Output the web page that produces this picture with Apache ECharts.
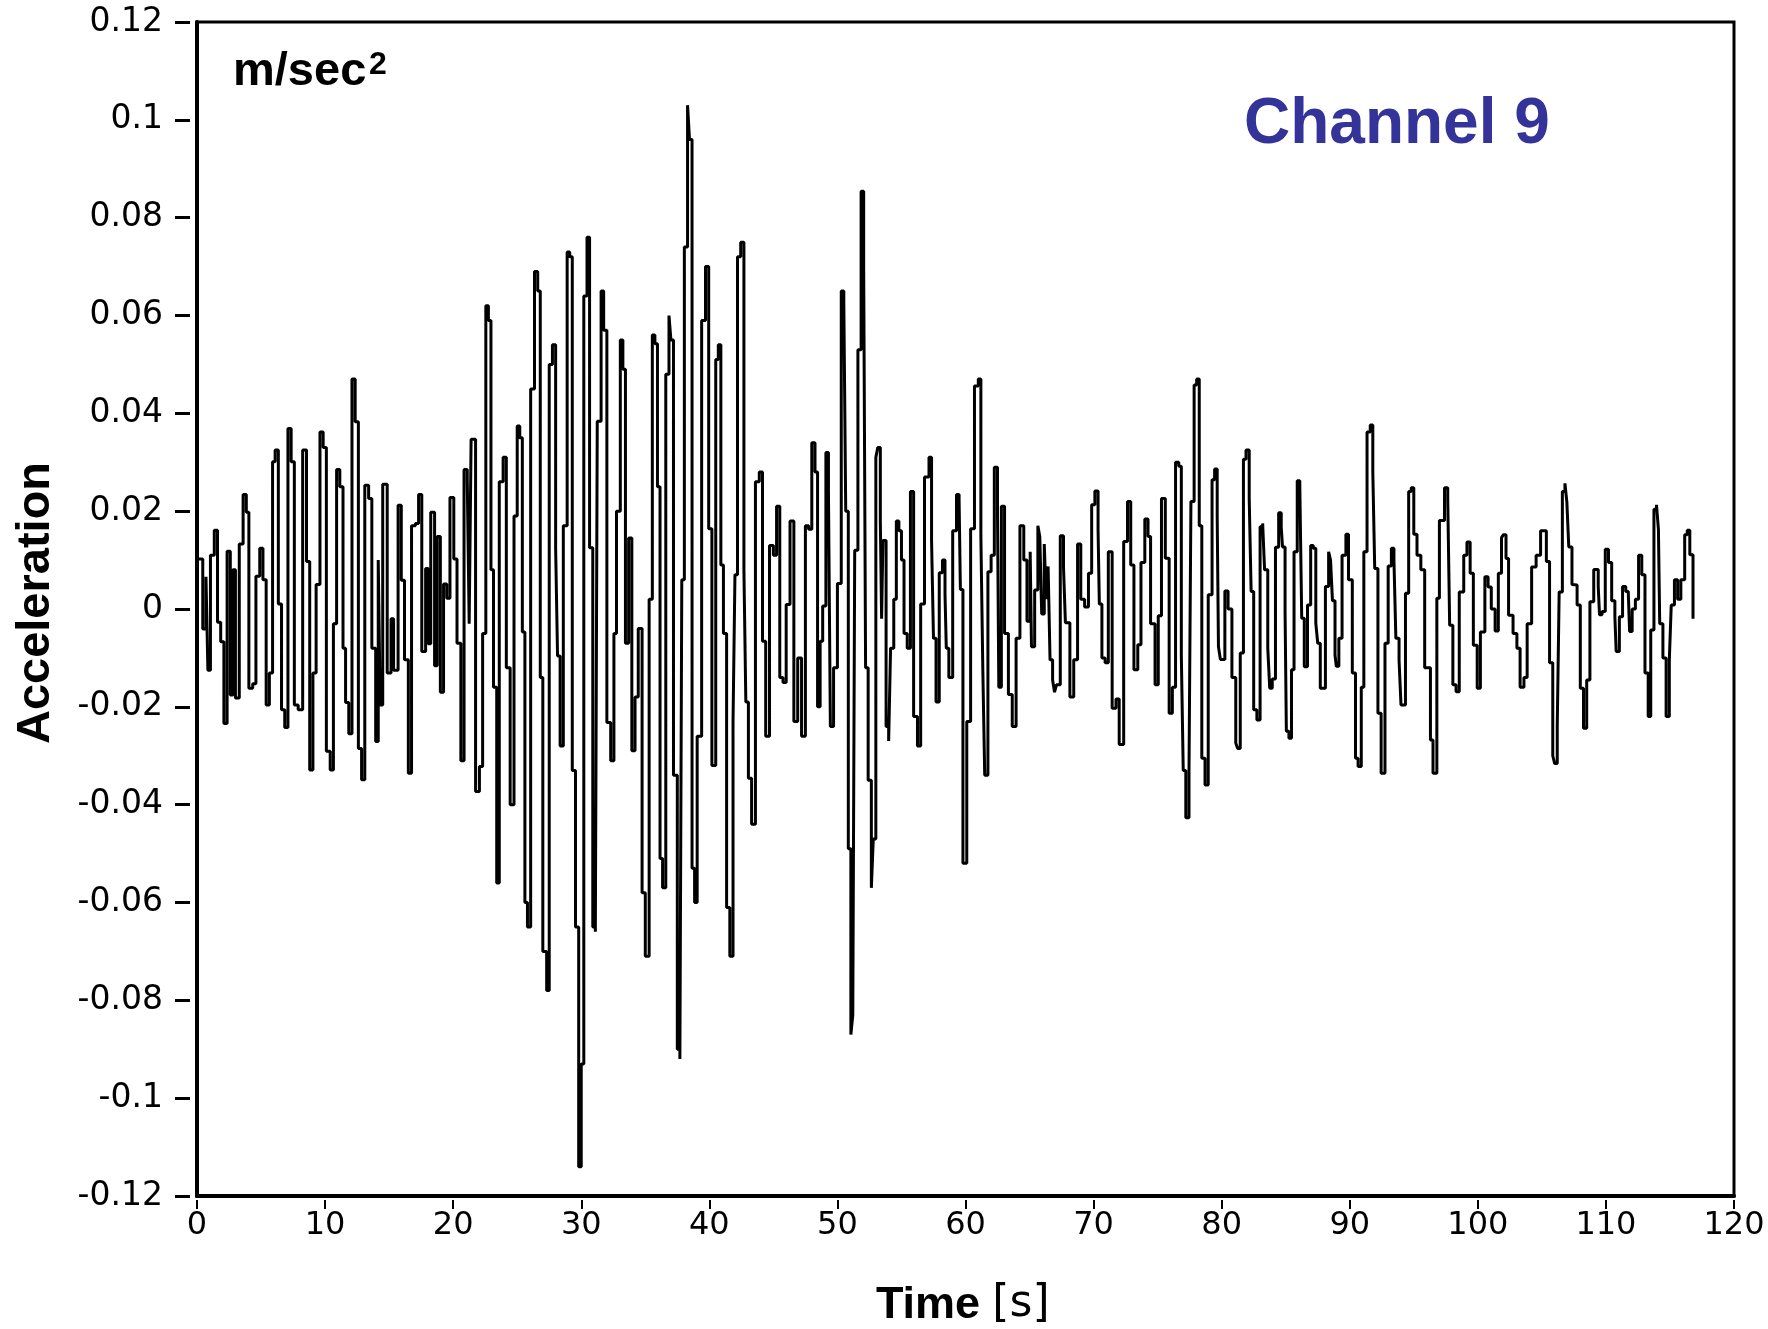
<!DOCTYPE html>
<html><head><meta charset="utf-8">
<script src="https://cdn.jsdelivr.net/npm/echarts@6/dist/echarts.min.js"></script>
<style>html,body{margin:0;padding:0;background:#fff}#c{width:1768px;height:1329px}</style>
</head><body><div id="c"></div>
<script>
// Time stamps (s) of each held sample
const timeS = [
0.10,0.45,0.70,0.85,1.05,1.35,1.60,1.85,2.10,2.35,2.60,2.80,3.00,3.30,3.60,3.85,4.05,4.35,4.60,4.90,
5.15,5.40,5.65,5.90,6.10,6.35,6.60,6.85,7.10,7.35,7.60,7.90,8.25,8.55,8.80,9.05,9.30,9.60,9.85,10.10,
10.40,10.65,10.90,11.15,11.40,11.60,11.85,12.10,12.35,12.60,12.85,13.10,13.40,13.65,13.95,14.15,14.30,14.50,14.85,15.15,
15.35,15.70,15.95,16.20,16.50,16.75,17.05,17.30,17.55,17.85,18.05,18.25,18.55,18.75,19.00,19.25,19.50,19.75,20.05,20.30,
20.60,20.85,21.10,21.25,21.40,21.75,22.05,22.30,22.55,22.75,22.95,23.15,23.40,23.60,23.90,24.15,24.45,24.75,25.00,25.20,
25.40,25.60,25.80,26.05,26.35,26.60,26.80,27.00,27.30,27.50,27.75,28.00,28.15,28.35,28.60,28.90,29.10,29.30,29.55,29.80,
30.00,30.20,30.45,30.65,30.90,31.10,31.25,31.55,31.75,32.00,32.30,32.55,32.75,33.05,33.25,33.45,33.70,33.95,34.20,34.45,
34.75,35.00,35.30,35.55,35.75,35.95,36.15,36.35,36.60,36.85,37.00,37.20,37.50,37.70,37.85,38.05,38.30,38.45,38.65,38.85,
39.05,39.40,39.70,39.95,40.20,40.50,40.70,40.90,41.10,41.35,41.60,41.85,42.00,42.20,42.45,42.70,42.85,43.05,43.30,43.60,
43.90,44.15,44.40,44.70,45.00,45.25,45.50,45.75,46.00,46.30,46.60,46.90,47.20,47.50,47.75,48.00,48.25,48.45,48.65,48.85,
49.10,49.30,49.45,49.70,50.00,50.30,50.50,50.65,50.85,51.05,51.20,51.35,51.60,51.85,52.05,52.20,52.40,52.65,52.80,53.00,
53.15,53.35,53.45,53.55,53.80,54.00,54.15,54.40,54.60,54.80,55.00,55.20,55.45,55.70,55.95,56.25,56.50,56.80,57.15,57.35,
57.50,57.70,57.95,58.20,58.40,58.50,58.70,59.00,59.30,59.50,59.60,59.80,60.10,60.40,60.70,61.00,61.20,61.35,61.50,61.75,
62.00,62.25,62.50,62.60,62.80,63.05,63.35,63.65,63.95,64.25,64.55,64.80,65.05,65.15,65.40,65.65,65.80,65.95,66.15,66.30,
66.45,66.60,66.80,66.95,67.10,67.40,67.65,67.80,68.15,68.45,68.75,69.00,69.30,69.60,69.85,70.10,70.35,70.45,70.65,70.90,
71.15,71.45,71.75,72.00,72.35,72.65,72.90,73.15,73.45,73.70,74.00,74.25,74.45,74.80,75.05,75.30,75.60,75.90,76.15,76.40,
76.65,76.85,77.00,77.20,77.45,77.60,77.85,78.05,78.25,78.45,78.70,78.95,79.25,79.45,79.65,79.75,79.90,80.25,80.50,80.80,
81.10,81.25,81.45,81.70,81.90,82.15,82.30,82.50,82.75,83.00,83.20,83.35,83.60,83.75,83.95,84.20,84.45,84.65,84.75,84.95,
85.05,85.25,85.45,85.65,85.90,86.10,86.25,86.45,86.70,86.95,87.15,87.35,87.50,87.70,88.10,88.35,88.50,88.65,88.85,88.95,
89.15,89.40,89.70,89.90,90.20,90.45,90.65,90.90,91.10,91.35,91.60,91.80,91.95,92.20,92.45,92.75,93.00,93.25,93.45,93.60,
93.85,94.00,94.35,94.60,94.80,95.00,95.25,95.55,95.85,96.30,96.50,96.80,97.00,97.40,97.65,97.80,98.05,98.30,98.55,98.90,
99.15,99.40,99.65,99.95,100.20,100.55,100.80,101.05,101.35,101.60,101.85,102.00,102.20,102.40,102.75,103.05,103.30,103.60,103.85,104.20,
104.55,104.90,105.35,105.60,105.85,106.00,106.20,106.35,106.60,106.80,106.95,107.10,107.35,107.50,107.75,108.00,108.25,108.50,108.75,109.05,
109.40,109.50,109.70,109.95,110.20,110.45,110.70,110.80,111.05,111.30,111.55,111.75,111.85,112.05,112.30,112.55,112.80,113.05,113.30,113.50,
113.75,113.95,114.10,114.20,114.45,114.70,114.95,115.10,115.35,115.60,115.85,116.15,116.35,116.55,116.80
];
// Acceleration (m/sec^2) at each time stamp
const accel = [
0.0102,-0.0041,0.0066,-0.0125,0.0110,0.0161,-0.0027,-0.0067,-0.0234,0.0118,-0.0176,0.0080,-0.0182,0.0133,0.0234,0.0198,-0.0162,-0.0153,0.0067,0.0124,
0.0060,-0.0196,-0.0131,0.0301,0.0325,0.0010,-0.0206,-0.0242,0.0369,0.0301,-0.0196,-0.0206,0.0325,0.0097,-0.0329,-0.0131,0.0050,0.0362,0.0330,-0.0291,
-0.0329,-0.0030,0.0285,0.0250,-0.0080,-0.0191,-0.0255,0.0470,0.0383,-0.0285,-0.0349,0.0253,0.0226,-0.0080,-0.0271,0.0100,-0.0196,0.0255,-0.0131,-0.0020,
-0.0125,0.0212,0.0059,-0.0104,-0.0336,0.0170,0.0175,0.0234,-0.0087,0.0083,-0.0071,0.0198,-0.0116,0.0148,-0.0170,0.0051,0.0022,0.0228,0.0102,-0.0070,
-0.0310,0.0285,0.0264,-0.0030,0.0347,-0.0373,-0.0322,-0.0050,0.0620,0.0590,0.0080,-0.0160,-0.0560,0.0260,0.0310,-0.0120,-0.0400,0.0190,0.0374,0.0350,
-0.0047,-0.0600,-0.0650,0.0450,0.0690,0.0650,-0.0140,-0.0700,-0.0780,0.0500,0.0540,0.0125,-0.0096,-0.0280,0.0170,0.0730,0.0720,-0.0330,-0.0650,-0.1140,
-0.0930,0.0640,0.0760,0.0125,-0.0650,-0.0660,0.0384,0.0650,0.0570,-0.0232,-0.0310,-0.0050,0.0200,0.0550,0.0490,-0.0070,0.0145,-0.0290,-0.0180,-0.0040,
-0.0580,-0.0710,0.0020,0.0560,0.0542,0.0250,-0.0510,-0.0570,0.0480,0.0600,0.0550,-0.0340,-0.0900,-0.0920,0.0060,0.0740,0.1030,0.0960,-0.0530,-0.0600,
-0.0260,0.0590,0.0700,0.0164,-0.0320,0.0510,0.0540,0.0090,-0.0050,-0.0610,-0.0710,-0.0230,0.0070,0.0720,0.0750,0.0080,-0.0190,-0.0346,-0.0440,0.0260,
0.0280,-0.0066,-0.0260,0.0130,0.0110,0.0210,-0.0140,-0.0150,0.0009,0.0180,-0.0230,-0.0100,-0.0260,0.0170,0.0163,0.0340,0.0280,-0.0200,-0.0066,0.0006,
0.0320,0.0240,-0.0240,-0.0120,0.0052,0.0650,0.0625,0.0200,-0.0490,-0.0870,-0.0830,0.0120,0.0530,0.0854,0.0700,-0.0120,-0.0350,-0.0570,-0.0470,0.0310,
0.0330,0.0180,-0.0020,0.0140,-0.0240,-0.0270,-0.0080,0.0020,0.0180,0.0160,0.0100,-0.0050,-0.0080,0.0240,-0.0220,-0.0280,0.0010,0.0270,0.0310,0.0140,
-0.0060,-0.0190,0.0074,0.0100,0.0030,-0.0080,-0.0140,0.0160,0.0234,0.0222,0.0040,-0.0520,-0.0230,0.0164,0.0456,0.0470,0.0150,-0.0120,-0.0340,0.0076,
0.0110,0.0290,0.0190,-0.0160,0.0210,-0.0050,-0.0175,-0.0240,-0.0060,0.0170,0.0100,-0.0025,0.0117,-0.0077,0.0039,0.0170,0.0148,-0.0010,0.0133,0.0020,
0.0087,-0.0104,-0.0145,-0.0170,-0.0155,0.0150,0.0087,-0.0028,-0.0180,-0.0104,0.0133,0.0020,0.0004,0.0073,0.0213,0.0241,0.0162,0.0010,-0.0100,-0.0110,
0.0117,-0.0203,-0.0184,-0.0277,0.0138,0.0220,0.0090,-0.0124,-0.0073,0.0095,0.0184,0.0148,-0.0030,-0.0155,-0.0014,0.0226,0.0104,-0.0213,-0.0160,0.0300,
0.0292,-0.0094,-0.0330,-0.0427,-0.0330,0.0220,0.0458,0.0470,0.0170,-0.0305,-0.0360,0.0029,0.0264,0.0286,0.0190,-0.0077,-0.0103,0.0037,0.0000,-0.0140,
-0.0274,-0.0285,-0.0090,0.0306,0.0325,0.0226,0.0036,-0.0206,-0.0227,0.0168,0.0175,0.0080,-0.0080,-0.0162,-0.0143,0.0126,0.0197,0.0168,0.0127,-0.0005,
-0.0250,-0.0264,-0.0124,0.0117,0.0262,0.0253,-0.0019,-0.0118,0.0008,0.0130,0.0124,-0.0029,-0.0070,-0.0162,0.0046,0.0117,0.0100,0.0017,-0.0094,-0.0117,
-0.0060,0.0110,0.0153,0.0060,-0.0131,-0.0305,-0.0322,-0.0160,0.0117,0.0362,0.0376,0.0280,0.0083,-0.0213,-0.0336,-0.0070,0.0088,0.0124,0.0100,-0.0060,
-0.0105,-0.0196,0.0032,0.0240,0.0248,0.0153,0.0110,0.0080,-0.0120,-0.0268,-0.0336,0.0022,0.0181,0.0248,0.0226,-0.0033,-0.0155,-0.0169,0.0035,0.0110,
0.0137,0.0073,-0.0074,-0.0162,-0.0047,0.0066,0.0045,0.0000,-0.0045,0.0073,0.0146,0.0152,0.0103,-0.0013,-0.0050,-0.0080,-0.0160,-0.0140,-0.0030,0.0086,
0.0110,0.0160,0.0097,-0.0110,-0.0300,-0.0316,-0.0240,0.0035,0.0240,0.0257,0.0219,0.0127,0.0050,0.0049,0.0008,-0.0162,-0.0244,-0.0145,0.0015,0.0081,
0.0046,-0.0012,-0.0005,0.0122,0.0095,0.0017,-0.0016,-0.0087,-0.0016,0.0046,0.0036,0.0030,-0.0046,0.0000,0.0020,0.0110,0.0070,-0.0131,-0.0220,-0.0043,
0.0204,0.0213,0.0162,-0.0030,-0.0100,-0.0220,-0.0104,0.0008,0.0060,0.0020,0.0060,0.0152,0.0161,0.0111,-0.0020
];
// Axis ranges / ticks
const xRange = [0, 120], xStep = 10;
const yRange = [-0.12, 0.12], yStep = 0.02;
const unitMain = 'm/sec';
const unitSup = '2';
const channelText = 'Channel 9';
const yTitle = 'Acceleration';
const xTitle = 'Time';
const xUnit = '[s]';

const chart = echarts.init(document.getElementById('c'), null, {renderer: 'canvas'});
const pts = timeS.map((t, i) => [t, accel[i]]);
chart.setOption({
  animation: false,
  backgroundColor: '#fff',
  grid: {left: 197, right: 34, top: 22, bottom: 133, show: true, borderColor: '#000', borderWidth: 3, containLabel: false},
  xAxis: {
    type: 'value', min: xRange[0], max: xRange[1], interval: xStep,
    axisLine: {show: true, onZero: false, lineStyle: {color: '#000', width: 4}},
    axisTick: {show: true, length: 13, lineStyle: {color: '#000', width: 2, type: [9, 4], dashOffset: 9}},
    axisLabel: {color: '#000', fontFamily: 'DejaVu Sans', fontSize: 32, margin: 14},
    splitLine: {show: false}
  },
  yAxis: {
    type: 'value', min: yRange[0], max: yRange[1], interval: yStep,
    axisLine: {show: true, onZero: false, lineStyle: {color: '#000', width: 4}},
    axisTick: {show: true, length: 22, lineStyle: {color: '#000', width: 3, type: [15, 7], dashOffset: 15}},
    axisLabel: {color: '#000', fontFamily: 'DejaVu Sans', fontSize: 33, margin: 34,
      formatter: v => String(Number(Number(v).toFixed(2)) || 0)},
    splitLine: {show: false}
  },
  series: [{
    type: 'line', data: pts, step: 'end', showSymbol: false, symbol: 'none',
    lineStyle: {color: '#000', width: 3}, silent: true, clip: true
  }],
  graphic: [
    {type: 'text', x: 233, y: 49, style: {text: unitMain, font: 'bold 47px "Liberation Sans", Arial, sans-serif', fill: '#000'}},
    {type: 'text', x: 369, y: 49, style: {text: unitSup, font: 'bold 32px "Liberation Sans", Arial, sans-serif', fill: '#000'}},
    {type: 'text', x: 1244, y: 93, style: {text: channelText, font: 'bold 64px "Liberation Sans", Arial, sans-serif', fill: '#333399'}},
    {type: 'text', x: 36, y: 603, rotation: Math.PI / 2,
      style: {text: yTitle, font: 'bold 47px "Liberation Sans", Arial, sans-serif', fill: '#000', align: 'center', verticalAlign: 'middle'}},
    {type: 'text', x: 928, y: 1306,
      style: {text: xTitle, font: 'bold 45px "Liberation Sans", Arial, sans-serif', fill: '#000', align: 'center', verticalAlign: 'middle'}},
    {type: 'text', x: 1021, y: 1305,
      style: {text: xUnit, font: '44px "DejaVu Sans", sans-serif', fill: '#000', align: 'center', verticalAlign: 'middle'}}
  ]
});
</script>
</body></html>
